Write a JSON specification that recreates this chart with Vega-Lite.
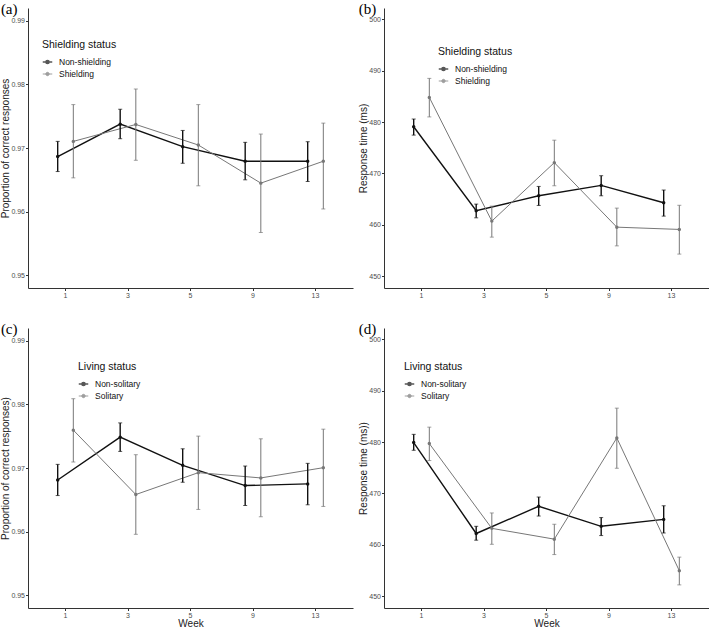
{
  "$schema": "https://vega.github.io/schema/vega-lite/v6.json",
  "padding": {"left": 0, "top": 2, "right": 0, "bottom": 0},
  "background": "white",
  "columns": 2,
  "bounds": "flush",
  "spacing": {"row": 40, "column": 31},
  "resolve": {
    "scale": {"color": "independent", "y": "independent", "x": "independent", "xOffset": "independent", "strokeWidth": "independent"},
    "legend": {"color": "independent"}
  },
  "datasets": {
    "a": [
      {"week": 1, "group": "Non-shielding", "mean": 0.96865, "lo": 0.9663, "hi": 0.97104},
      {"week": 3, "group": "Non-shielding", "mean": 0.97375, "lo": 0.97146, "hi": 0.97609},
      {"week": 5, "group": "Non-shielding", "mean": 0.97021, "lo": 0.9676, "hi": 0.97276},
      {"week": 9, "group": "Non-shielding", "mean": 0.96792, "lo": 0.965, "hi": 0.97089},
      {"week": 13, "group": "Non-shielding", "mean": 0.96792, "lo": 0.96474, "hi": 0.97099},
      {"week": 1, "group": "Shielding", "mean": 0.97104, "lo": 0.96531, "hi": 0.97682},
      {"week": 3, "group": "Shielding", "mean": 0.9737, "lo": 0.96807, "hi": 0.97927},
      {"week": 5, "group": "Shielding", "mean": 0.97047, "lo": 0.96406, "hi": 0.97682},
      {"week": 9, "group": "Shielding", "mean": 0.96448, "lo": 0.95672, "hi": 0.97219},
      {"week": 13, "group": "Shielding", "mean": 0.96792, "lo": 0.96042, "hi": 0.97391}
    ],
    "b": [
      {"week": 1, "group": "Non-shielding", "mean": 479.09, "lo": 477.46, "hi": 480.59},
      {"week": 3, "group": "Non-shielding", "mean": 462.73, "lo": 461.36, "hi": 464.03},
      {"week": 5, "group": "Non-shielding", "mean": 465.65, "lo": 463.77, "hi": 467.47},
      {"week": 9, "group": "Non-shielding", "mean": 467.67, "lo": 465.65, "hi": 469.56},
      {"week": 13, "group": "Non-shielding", "mean": 464.29, "lo": 461.69, "hi": 466.77},
      {"week": 1, "group": "Shielding", "mean": 484.79, "lo": 481.0, "hi": 488.5},
      {"week": 3, "group": "Shielding", "mean": 460.72, "lo": 457.6, "hi": 463.64},
      {"week": 5, "group": "Shielding", "mean": 472.1, "lo": 467.6, "hi": 476.47},
      {"week": 9, "group": "Shielding", "mean": 459.54, "lo": 455.9, "hi": 463.25},
      {"week": 13, "group": "Shielding", "mean": 459.1, "lo": 454.3, "hi": 463.8}
    ],
    "c": [
      {"week": 1, "group": "Non-solitary", "mean": 0.96812, "lo": 0.96567, "hi": 0.97057},
      {"week": 3, "group": "Non-solitary", "mean": 0.97485, "lo": 0.97261, "hi": 0.97709},
      {"week": 5, "group": "Non-solitary", "mean": 0.97042, "lo": 0.96776, "hi": 0.97302},
      {"week": 9, "group": "Non-solitary", "mean": 0.96724, "lo": 0.96411, "hi": 0.97031},
      {"week": 13, "group": "Non-solitary", "mean": 0.9675, "lo": 0.96422, "hi": 0.97073},
      {"week": 1, "group": "Solitary", "mean": 0.97595, "lo": 0.97094, "hi": 0.98089},
      {"week": 3, "group": "Solitary", "mean": 0.96583, "lo": 0.95958, "hi": 0.97209},
      {"week": 5, "group": "Solitary", "mean": 0.96927, "lo": 0.96349, "hi": 0.97501},
      {"week": 9, "group": "Solitary", "mean": 0.96844, "lo": 0.96234, "hi": 0.97459},
      {"week": 13, "group": "Solitary", "mean": 0.97005, "lo": 0.96396, "hi": 0.9761}
    ],
    "d": [
      {"week": 1, "group": "Non-solitary", "mean": 479.9, "lo": 478.4, "hi": 481.5},
      {"week": 3, "group": "Non-solitary", "mean": 462.2, "lo": 460.9, "hi": 463.6},
      {"week": 5, "group": "Non-solitary", "mean": 467.5, "lo": 465.6, "hi": 469.3},
      {"week": 9, "group": "Non-solitary", "mean": 463.6, "lo": 461.8, "hi": 465.3},
      {"week": 13, "group": "Non-solitary", "mean": 464.95, "lo": 462.3, "hi": 467.6},
      {"week": 1, "group": "Solitary", "mean": 479.7, "lo": 476.4, "hi": 482.9},
      {"week": 3, "group": "Solitary", "mean": 463.2, "lo": 460.1, "hi": 466.2},
      {"week": 5, "group": "Solitary", "mean": 461.1, "lo": 458.1, "hi": 464.0},
      {"week": 9, "group": "Solitary", "mean": 480.8, "lo": 474.9, "hi": 486.6},
      {"week": 13, "group": "Solitary", "mean": 454.95, "lo": 452.2, "hi": 457.6}
    ]
  },
  "concat": [
    {
      "title": {"text": "(a)", "anchor": "start", "frame": "bounds", "font": "Liberation Serif", "fontSize": 15, "fontWeight": "normal", "color": "#000", "baseline": "bottom", "offset": 0, "dy": 24},
      "width": 325, "height": 280,
      "data": {"name": "a"},
      "encoding": {
        "x": {"field": "week", "type": "ordinal", "scale": {"type": "band", "paddingInner": 0, "paddingOuter": 0.1}, "axis": {"title": null, "labelAngle": 0}},
        "xOffset": {"field": "group", "type": "nominal", "scale": {"paddingInner": 0, "paddingOuter": 3.6}},
        "color": {"field": "group", "type": "nominal", "scale": {"range": ["#111111", "#777777"]},
          "legend": {"title": "Shielding status", "orient": "none", "legendX": 14, "legendY": 32, "symbolType": "M-1,0H1M-0.35,0A0.35,0.35 0 1,0 0.35,0A0.35,0.35 0 1,0 -0.35,0Z", "symbolSize": 90}},
        "strokeWidth": {"field": "group", "type": "nominal", "scale": {"range": [1.4, 1]}, "legend": null}
      },
      "layer": [
        {"mark": {"type": "line"}, "encoding": {"y": {"field": "mean", "type": "quantitative", "title": "Proportion of correct responses", "scale": {"domain": [0.948, 0.992], "nice": false, "zero": false}, "axis": {"values": [0.95, 0.96, 0.97, 0.98, 0.99], "format": ".2f"}}}},
        {"mark": {"type": "rule"}, "encoding": {"y": {"field": "lo", "type": "quantitative", "title": "Proportion of correct responses"}, "y2": {"field": "hi"}}},
        {"mark": {"type": "tick", "size": 4, "thickness": 1}, "encoding": {"y": {"field": "lo", "type": "quantitative", "title": "Proportion of correct responses"}}},
        {"mark": {"type": "tick", "size": 4, "thickness": 1}, "encoding": {"y": {"field": "hi", "type": "quantitative", "title": "Proportion of correct responses"}}},
        {"mark": {"type": "point", "filled": true, "size": 12, "opacity": 1}, "encoding": {"y": {"field": "mean", "type": "quantitative", "title": "Proportion of correct responses"}}}
      ]
    },
    {
      "title": {"text": "(b)", "anchor": "start", "frame": "bounds", "font": "Liberation Serif", "fontSize": 15, "fontWeight": "normal", "color": "#000", "baseline": "bottom", "offset": 0, "dy": 24},
      "width": 325, "height": 280,
      "data": {"name": "b"},
      "encoding": {
        "x": {"field": "week", "type": "ordinal", "scale": {"type": "band", "paddingInner": 0, "paddingOuter": 0.1}, "axis": {"title": null, "labelAngle": 0}},
        "xOffset": {"field": "group", "type": "nominal", "scale": {"paddingInner": 0, "paddingOuter": 3.6}},
        "color": {"field": "group", "type": "nominal", "scale": {"range": ["#111111", "#777777"]},
          "legend": {"title": "Shielding status", "orient": "none", "legendX": 54, "legendY": 39, "symbolType": "M-1,0H1M-0.35,0A0.35,0.35 0 1,0 0.35,0A0.35,0.35 0 1,0 -0.35,0Z", "symbolSize": 90}},
        "strokeWidth": {"field": "group", "type": "nominal", "scale": {"range": [1.4, 1]}, "legend": null}
      },
      "layer": [
        {"mark": {"type": "line"}, "encoding": {"y": {"field": "mean", "type": "quantitative", "title": "Response time (ms)", "scale": {"domain": [447.7, 502.2], "nice": false, "zero": false}, "axis": {"values": [450, 460, 470, 480, 490, 500]}}}},
        {"mark": {"type": "rule"}, "encoding": {"y": {"field": "lo", "type": "quantitative", "title": "Response time (ms)"}, "y2": {"field": "hi"}}},
        {"mark": {"type": "tick", "size": 4, "thickness": 1}, "encoding": {"y": {"field": "lo", "type": "quantitative", "title": "Response time (ms)"}}},
        {"mark": {"type": "tick", "size": 4, "thickness": 1}, "encoding": {"y": {"field": "hi", "type": "quantitative", "title": "Response time (ms)"}}},
        {"mark": {"type": "point", "filled": true, "size": 12, "opacity": 1}, "encoding": {"y": {"field": "mean", "type": "quantitative", "title": "Response time (ms)"}}}
      ]
    },
    {
      "title": {"text": "(c)", "anchor": "start", "frame": "bounds", "font": "Liberation Serif", "fontSize": 15, "fontWeight": "normal", "color": "#000", "baseline": "bottom", "offset": 0, "dy": 24},
      "width": 325, "height": 280,
      "data": {"name": "c"},
      "encoding": {
        "x": {"field": "week", "type": "ordinal", "scale": {"type": "band", "paddingInner": 0, "paddingOuter": 0.1}, "axis": {"title": "Week", "labelAngle": 0}},
        "xOffset": {"field": "group", "type": "nominal", "scale": {"paddingInner": 0, "paddingOuter": 3.6}},
        "color": {"field": "group", "type": "nominal", "scale": {"range": ["#111111", "#777777"]},
          "legend": {"title": "Living status", "orient": "none", "legendX": 50, "legendY": 34, "symbolType": "M-1,0H1M-0.35,0A0.35,0.35 0 1,0 0.35,0A0.35,0.35 0 1,0 -0.35,0Z", "symbolSize": 90}},
        "strokeWidth": {"field": "group", "type": "nominal", "scale": {"range": [1.4, 1]}, "legend": null}
      },
      "layer": [
        {"mark": {"type": "line"}, "encoding": {"y": {"field": "mean", "type": "quantitative", "title": "Proportion of correct responses)", "scale": {"domain": [0.948, 0.992], "nice": false, "zero": false}, "axis": {"values": [0.95, 0.96, 0.97, 0.98, 0.99], "format": ".2f"}}}},
        {"mark": {"type": "rule"}, "encoding": {"y": {"field": "lo", "type": "quantitative", "title": "Proportion of correct responses)"}, "y2": {"field": "hi"}}},
        {"mark": {"type": "tick", "size": 4, "thickness": 1}, "encoding": {"y": {"field": "lo", "type": "quantitative", "title": "Proportion of correct responses)"}}},
        {"mark": {"type": "tick", "size": 4, "thickness": 1}, "encoding": {"y": {"field": "hi", "type": "quantitative", "title": "Proportion of correct responses)"}}},
        {"mark": {"type": "point", "filled": true, "size": 12, "opacity": 1}, "encoding": {"y": {"field": "mean", "type": "quantitative", "title": "Proportion of correct responses)"}}}
      ]
    },
    {
      "title": {"text": "(d)", "anchor": "start", "frame": "bounds", "font": "Liberation Serif", "fontSize": 15, "fontWeight": "normal", "color": "#000", "baseline": "bottom", "offset": 0, "dy": 24},
      "width": 325, "height": 280,
      "data": {"name": "d"},
      "encoding": {
        "x": {"field": "week", "type": "ordinal", "scale": {"type": "band", "paddingInner": 0, "paddingOuter": 0.1}, "axis": {"title": "Week", "labelAngle": 0}},
        "xOffset": {"field": "group", "type": "nominal", "scale": {"paddingInner": 0, "paddingOuter": 3.6}},
        "color": {"field": "group", "type": "nominal", "scale": {"range": ["#111111", "#777777"]},
          "legend": {"title": "Living status", "orient": "none", "legendX": 20, "legendY": 34, "symbolType": "M-1,0H1M-0.35,0A0.35,0.35 0 1,0 0.35,0A0.35,0.35 0 1,0 -0.35,0Z", "symbolSize": 90}},
        "strokeWidth": {"field": "group", "type": "nominal", "scale": {"range": [1.4, 1]}, "legend": null}
      },
      "layer": [
        {"mark": {"type": "line"}, "encoding": {"y": {"field": "mean", "type": "quantitative", "title": "Response time (ms))", "scale": {"domain": [447.7, 502.2], "nice": false, "zero": false}, "axis": {"values": [450, 460, 470, 480, 490, 500]}}}},
        {"mark": {"type": "rule"}, "encoding": {"y": {"field": "lo", "type": "quantitative", "title": "Response time (ms))"}, "y2": {"field": "hi"}}},
        {"mark": {"type": "tick", "size": 4, "thickness": 1}, "encoding": {"y": {"field": "lo", "type": "quantitative", "title": "Response time (ms))"}}},
        {"mark": {"type": "tick", "size": 4, "thickness": 1}, "encoding": {"y": {"field": "hi", "type": "quantitative", "title": "Response time (ms))"}}},
        {"mark": {"type": "point", "filled": true, "size": 12, "opacity": 1}, "encoding": {"y": {"field": "mean", "type": "quantitative", "title": "Response time (ms))"}}}
      ]
    }
  ],
  "config": {
    "font": "Liberation Sans",
    "view": {"stroke": null},
    "axis": {"grid": false, "domainColor": "#333333", "domainWidth": 1, "tickColor": "#333333", "tickSize": 2.5, "labelFontSize": 7, "labelColor": "#4d4d4d", "labelPadding": 1, "titleFontSize": 10, "titleFontWeight": "normal", "titleColor": "#222222", "titlePadding": 0},
    "legend": {"titleFontSize": 10.5, "titleFontWeight": "normal", "titleColor": "#111111", "labelFontSize": 8.5, "labelColor": "#111111", "titlePadding": 6, "rowPadding": 2, "labelOffset": 6, "symbolStrokeWidth": 1.4}
  }
}
